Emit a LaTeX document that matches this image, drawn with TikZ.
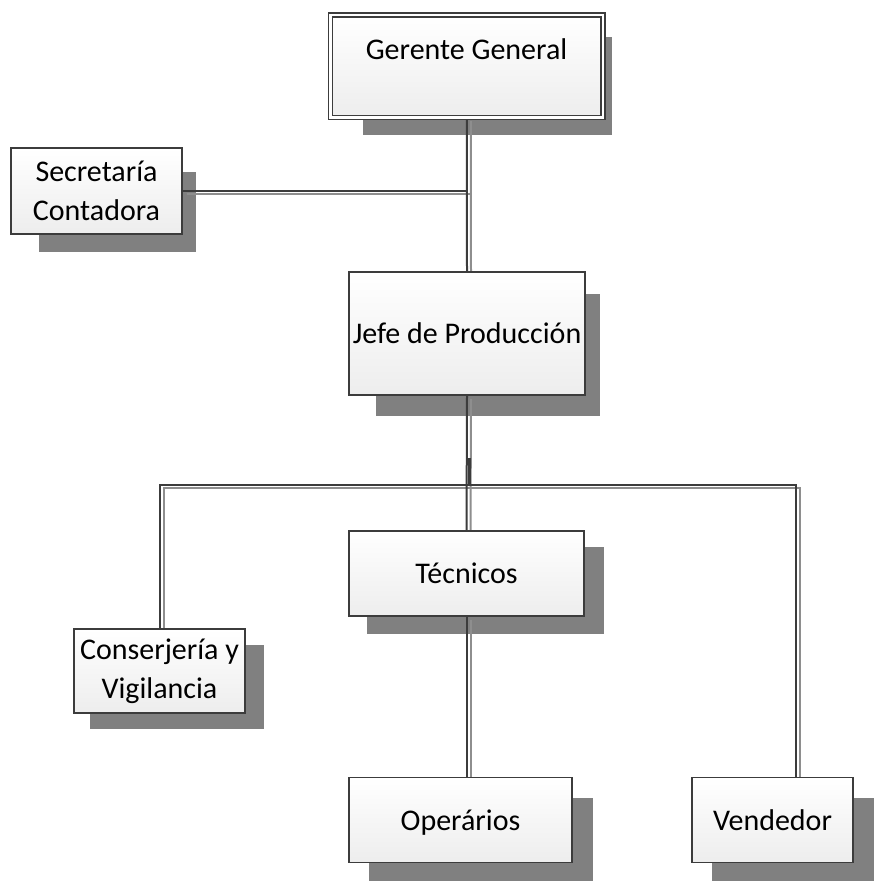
\documentclass[tikz,border=0pt]{standalone}
\usepackage{fontspec}
\setmainfont{Carlito}
\pgfdeclarelayer{bg}
\pgfdeclarelayer{mid}
\pgfsetlayers{bg,mid,main}
\definecolor{darkline}{HTML}{3C3C3C}
\definecolor{lineshadow}{HTML}{8E8E8E}
\definecolor{boxshadow}{HTML}{808080}
\tikzset{
  orgbox/.style={rectangle, draw=darkline, line width=1.6pt, top color=white, bottom color=black!7,
    inner sep=0pt, align=center, font=\fontsize{30}{39}\selectfont},
  oneline/.style={text height=23.5pt, text depth=3pt},
  dblbox/.style={orgbox, double=white, double distance=2.6pt, line width=1.4pt},
  conn/.style={draw=darkline, line width=2pt},
  connsh/.style={draw=lineshadow, line width=2pt},
  shadowbox/.style={fill=boxshadow},
  txt/.style={inner sep=0pt, font=\fontsize{30}{39}\selectfont}
}
\begin{document}
\begin{tikzpicture}[x=1pt,y=-1pt]
\useasboundingbox (0,0) rectangle (890,880);
% boxes
\node[dblbox, minimum width=272.5pt, minimum height=102.5pt] (gg) at (466.75,66.25) {};
\node[txt, oneline] (ggtxt) at (466.5,49) {Gerente General};
\node[orgbox, minimum width=171pt, minimum height=86pt] (sec) at (96.5,191) {Secretaría\\Contadora};
\node[orgbox, oneline, minimum width=236pt, minimum height=123pt] (jefe) at (467,333.5) {Jefe de Producción};
\node[orgbox, oneline, minimum width=235pt, minimum height=85pt] (tec) at (466.5,573.5) {Técnicos};
\node[orgbox, minimum width=171pt, minimum height=84pt] (cons) at (159.5,671) {Conserjería y\\Vigilancia};
\node[orgbox, oneline, minimum width=223pt, minimum height=85pt] (oper) at (460.5,820) {Operários};
\node[orgbox, oneline, minimum width=161pt, minimum height=85pt] (vend) at (772.5,820) {Vendedor};
% shadows
\begin{pgfonlayer}{bg}
\fill[shadowbox] ([shift={(33,23)}]gg.north west) rectangle ([shift={(8,17)}]gg.south east);
\fill[shadowbox] ([shift={(29,25)}]sec.north west) rectangle ([shift={(13,17)}]sec.south east);
\fill[shadowbox] ([shift={(28,23)}]jefe.north west) rectangle ([shift={(14,20)}]jefe.south east);
\fill[shadowbox] ([shift={(19,17)}]tec.north west) rectangle ([shift={(19,17)}]tec.south east);
\fill[shadowbox] ([shift={(17,17)}]cons.north west) rectangle ([shift={(18,15)}]cons.south east);
\fill[shadowbox] ([shift={(21,21)}]oper.north west) rectangle ([shift={(20,20)}]oper.south east);
\fill[shadowbox] ([shift={(21,21)}]vend.north west) rectangle ([shift={(20,20)}]vend.south east);
\end{pgfonlayer}
% connectors
\coordinate (busy) at (0,485);
\coordinate (vendtop) at ([xshift=23pt]vend.north);
\coordinate (jtop) at (469,458);
\begin{pgfonlayer}{mid}
\begin{scope}[transform canvas={shift={(4pt,-3pt)}}]
\draw[connsh] (gg.south) -- (jefe.north);
\draw[connsh] (sec.east) -- (sec.east -| gg.south);
\draw[connsh] (jefe.south) -- (tec.north);
\draw[connsh] (cons.north) |- (busy -| jefe.south) -| (vendtop);
\draw[connsh] (tec.south) -- (tec.south |- oper.north);
\end{scope}
\draw[conn] (gg.south) -- (jefe.north);
\draw[conn] (sec.east) -- (sec.east -| gg.south);
\draw[conn] (jefe.south) -- (tec.north);
\draw[conn] (cons.north) |- (busy -| jefe.south) -| (vendtop);
\draw[conn] (tec.south) -- (tec.south |- oper.north);
\draw[conn, line width=3pt] (jtop) -- (jtop |- busy);
\end{pgfonlayer}
\end{tikzpicture}
\end{document}
